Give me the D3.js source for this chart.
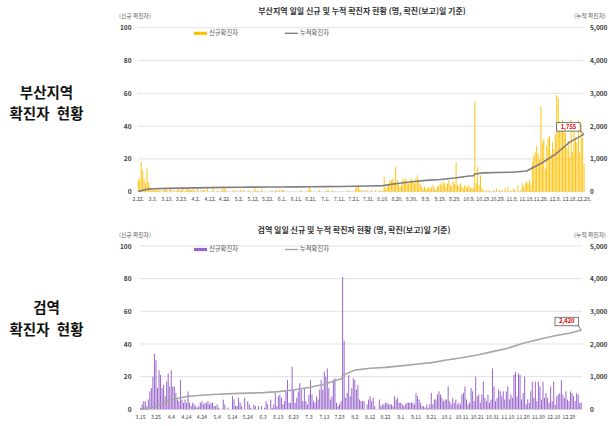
<!DOCTYPE html>
<html><head><meta charset="utf-8">
<script src="https://cdn.jsdelivr.net/npm/d3@7"></script>
<style>
body{margin:0;background:#fff;}
svg{display:block;font-family:"Noto Sans CJK KR","Noto Sans",sans-serif;}
</style></head><body>
<svg id="c" width="608" height="426"></svg>
<script>
// ---------- Busan region daily new cases (2020.2.22 ~ 12.28) ----------
const busanFeb = [7, 8, 18, 13, 8, 5, 14, 6];
const busanMar = [3, 2, 2, 1, 2, 1, 1, 2, 0, 1, 1, 2, 1, 0, 3, 1, 0, 1, 0, 1, 2, 1, 1, 3, 0, 1, 2, 2, 1, 1, 2];
const busanApr = [1, 0, 2, 0, 1, 0, 1, 1, 0, 2, 0, 0, 0, 3, 0, 0, 1, 0, 0, 1, 3, 2, 1, 0, 0, 0, 0, 1, 0, 1];
const busanMay = [0, 0, 1, 0, 1, 0, 0, 0, 1, 0, 0, 0, 3, 0, 1, 0, 0, 2, 0, 0, 0, 0, 0, 0, 1, 0, 0, 1, 0, 1, 0];
const busanJun = [1, 1, 0, 0, 0, 0, 0, 0, 0, 0, 0, 0, 0, 1, 0, 0, 0, 0, 1, 3, 1, 0, 0, 0, 0, 0, 1, 0, 0, 0];
const busanJul = [0, 1, 1, 0, 0, 1, 0, 0, 0, 0, 0, 0, 0, 0, 0, 0, 1, 0, 0, 0, 0, 2, 3, 4, 1, 1, 0, 1, 0, 1, 0];
const busanAug = [0, 1, 0, 0, 1, 0, 0, 1, 0, 1, 9, 2, 3, 5, 7, 7, 8, 6, 15, 7, 5, 3, 4, 8, 7, 8, 6, 5, 7, 8, 6];
const busanSep = [5, 8, 10, 7, 5, 3, 2, 3, 2, 2, 3, 2, 3, 4, 2, 1, 3, 4, 5, 4, 6, 5, 3, 5, 7, 4, 3, 6, 5, 18];
const busanOct = [4, 3, 5, 3, 2, 4, 3, 3, 4, 2, 3, 2, 55, 5, 15, 4, 10, 2, 1, 0, 1, 0, 1, 0, 0, 1, 0, 2, 0, 1, 0];
const busanNov = [1, 0, 2, 0, 3, 0, 1, 0, 2, 1, 0, 4, 0, 1, 5, 3, 5, 6, 5, 7, 4, 18, 22, 24, 28, 23, 20, 52, 30, 32];
const busanDec = [14, 28, 33, 34, 23, 30, 26, 35, 59, 57, 43, 37, 44, 41, 36, 27, 31, 21, 44, 24, 41, 33, 30, 44, 24, 41, 33, 17];

// Busan cumulative (read at points)
const busanCumDates = ["2.22","2.25","2.29","3.3","3.13","3.23","4.2","4.12","4.22","5.2","5.12","5.22","6.1","6.11","6.21","7.1","7.11","7.21","7.31","8.10","8.20","8.30","9.9","9.19","9.29","10.9","10.12","10.13","10.19","10.29","11.8","11.18","11.28","12.8","12.18","12.28"];
const busanCumValues = [7, 46, 79, 88, 100, 110, 118, 125, 131, 136, 140, 142, 145, 147, 152, 155, 158, 166, 175, 185, 250, 305, 345, 370, 420, 480, 485, 540, 575, 585, 595, 630, 860, 1140, 1510, 1755];

const busanTicks = ["2.22.","3.3.","3.13.","3.23.","4.2.","4.12.","4.22.","5.2.","5.12.","5.22.","6.1.","6.11.","6.21.","7.1.","7.11.","7.21.","7.31.","8.10.","8.20.","8.30.","9.9.","9.19.","9.29.","10.9.","10.19.","10.29.","11.8.","11.18.","11.28.","12.8.","12.18.","12.28."];

// ---------- Quarantine daily new cases (2020.3.15 ~ 12.28) ----------
const quarMar = [1, 3, 5, 5, 2, 6, 11, 13, 20, 34, 30, 13, 24, 21, 13, 15, 8];
const quarApr = [17, 22, 14, 24, 14, 14, 10, 6, 5, 18, 6, 4, 6, 4, 11, 4, 2, 4, 3, 2, 1, 2, 4, 5, 3, 4, 4, 5, 3, 4];
const quarMay = [4, 2, 2, 3, 1, 0, 0, 6, 3, 0, 1, 0, 0, 8, 6, 2, 2, 7, 4, 2, 0, 7, 0, 5, 3, 1, 0, 3, 2, 0, 2];
const quarJun = [0, 2, 0, 1, 5, 3, 0, 6, 1, 3, 10, 2, 8, 9, 7, 3, 5, 11, 18, 4, 4, 26, 12, 4, 7, 11, 16, 12, 5, 13];
const quarJul = [5, 3, 9, 18, 9, 5, 4, 8, 6, 12, 18, 12, 23, 20, 25, 13, 6, 8, 18, 19, 4, 2, 3, 5, 81, 42, 7, 10, 21, 8, 13];
const quarAug = [19, 18, 12, 15, 6, 5, 5, 5, 0, 3, 6, 8, 5, 7, 2, 0, 0, 6, 2, 3, 3, 4, 4, 3, 3, 3, 2, 8, 6, 7, 4];
const quarSep = [4, 3, 2, 3, 4, 4, 4, 4, 4, 3, 10, 8, 6, 4, 2, 2, 1, 3, 1, 3, 10, 3, 6, 6, 9, 11, 9, 7, 5, 6];
const quarOct = [6, 14, 5, 3, 7, 4, 6, 3, 4, 3, 9, 10, 14, 6, 3, 4, 13, 11, 5, 20, 8, 9, 4, 9, 17, 7, 5, 9, 4, 6, 25];
const quarNov = [14, 5, 7, 12, 11, 8, 11, 6, 11, 14, 6, 9, 7, 21, 23, 8, 22, 21, 6, 10, 20, 3, 6, 4, 11, 17, 7, 17, 5, 17];
const quarDec = [14, 6, 17, 7, 10, 7, 4, 14, 5, 17, 3, 8, 9, 10, 18, 9, 7, 11, 6, 5, 11, 10, 8, 5, 10, 9, 4, 4];

const quarCumDates = ["3.15","3.20","3.25","4.4","4.14","4.24","5.4","5.14","5.24","6.3","6.13","6.23","7.3","7.13","7.23","7.24","7.26","8.2","8.12","8.22","9.1","9.11","9.21","10.1","10.11","10.21","10.31","11.10","11.20","11.30","12.10","12.20","12.28"];
const quarCumValues = [0, 15, 100, 290, 390, 430, 460, 480, 495, 510, 540, 590, 670, 765, 920, 930, 1055, 1200, 1255, 1285, 1330, 1380, 1430, 1510, 1580, 1660, 1765, 1870, 2020, 2140, 2245, 2330, 2420];

const quarTicks = ["3.15","3.25","4.4","4.14","4.24","5.4","5.14","5.24","6.3","6.13","6.23","7.3","7.13","7.23","8.2","8.12","8.22","9.1","9.11","9.21","10.1","10.11","10.21","10.31","11.10","11.20","11.30","12.10","12.20"];

const leftTicks = [0, 20, 40, 60, 80, 100];
const rightTicks = [0, 1000, 2000, 3000, 4000, 5000];

const svg = d3.select("#c");

function panel(o) {
  const g = svg.append("g");
  const days = d3.timeDay.range(o.start, o.end);
  const keys = days.map(d => (d.getMonth() + 1) + "." + d.getDate());
  const x = d3.scaleBand().domain(keys).range([o.x0, o.x1]).paddingInner(0.35).paddingOuter(0.175);
  const yL = d3.scaleLinear().domain([0, 100]).range([o.y0, o.y1]);
  const yR = d3.scaleLinear().domain([0, 5000]).range([o.y0, o.y1]);

  // gridlines
  g.append("g").selectAll("line").data(leftTicks).join("line")
    .attr("x1", o.x0).attr("x2", o.x1)
    .attr("y1", d => yL(d)).attr("y2", d => yL(d))
    .attr("stroke", "#d9d9d9").attr("stroke-width", 0.8);

  // bars
  g.append("g").selectAll("rect").data(o.daily).join("rect")
    .attr("x", (d, i) => x(keys[i]))
    .attr("width", x.bandwidth())
    .attr("y", d => yL(d))
    .attr("height", d => yL(0) - yL(d))
    .attr("fill", o.barColor);

  // cumulative line
  const line = d3.line()
    .x(d => x(d[0]) + x.bandwidth() / 2)
    .y(d => yR(d[1]));
  const pts = o.cumDates.map((d, i) => [d, o.cumValues[i]]);
  g.append("path").datum(pts).attr("d", line)
    .attr("fill", "none").attr("stroke", o.lineColor).attr("stroke-width", 1.6)
    .attr("stroke-linejoin", "round");

  // axes
  const ax = d3.axisBottom(x)
    .tickValues(o.ticks.map(t => t.replace(/\.$/, "")))
    .tickSize(0).tickPadding(0)
    .tickFormat((d, i) => o.ticks[i]);
  const axG = g.append("g").attr("transform", `translate(0,${o.xLabelY})`).call(ax);
  axG.select(".domain").remove();
  axG.selectAll("text").attr("font-size", 5.2).attr("fill", "#404040")
    .attr("font-family", '"Noto Sans CJK KR",sans-serif').attr("dy", "0.35em");

  const al = d3.axisLeft(yL).tickValues(leftTicks).tickSize(0).tickPadding(o.x0 - 131.5)
    .tickFormat(d3.format("d"));
  const alG = g.append("g").attr("transform", `translate(${o.x0},0)`).call(al);
  alG.select(".domain").remove();
  alG.selectAll("text").attr("font-size", 6.5).attr("font-weight", 700).attr("fill", "#404040")
    .attr("font-family", '"Noto Sans CJK KR",sans-serif');

  const ar = d3.axisRight(yR).tickValues(rightTicks).tickSize(0).tickPadding(590 - o.x1)
    .tickFormat(d3.format(","));
  const arG = g.append("g").attr("transform", `translate(${o.x1},0)`).call(ar);
  arG.select(".domain").remove();
  arG.selectAll("text").attr("font-size", 6.5).attr("font-weight", 700).attr("fill", "#404040")
    .attr("font-family", '"Noto Sans CJK KR",sans-serif');

  // title and axis captions
  g.append("text").attr("x", o.titleX).attr("y", o.titleY).attr("text-anchor", "middle")
    .attr("dominant-baseline", "middle").attr("font-size", 8).attr("font-weight", 700)
    .attr("fill", "#333").text(o.title);
  g.append("text").attr("x", 119).attr("y", o.capY).attr("dominant-baseline", "middle")
    .attr("font-size", 5.8).attr("fill", "#595959").text("(신규 확진자)");
  g.append("text").attr("x", 606).attr("y", o.capY).attr("text-anchor", "end").attr("dominant-baseline", "middle")
    .attr("font-size", 5.8).attr("fill", "#595959").text("(누적 확진자)");

  // legend
  g.append("rect").attr("x", 194).attr("y", o.legY - 1.6).attr("width", 13).attr("height", 3.2).attr("fill", o.barColor);
  g.append("text").attr("x", 209).attr("y", o.legY).attr("dominant-baseline", "middle")
    .attr("font-size", 6.3).attr("fill", "#595959").text("신규확진자");
  g.append("line").attr("x1", 285).attr("x2", 298).attr("y1", o.legY).attr("y2", o.legY)
    .attr("stroke", o.lineColor).attr("stroke-width", 1.4);
  g.append("text").attr("x", 300).attr("y", o.legY).attr("dominant-baseline", "middle")
    .attr("font-size", 6.3).attr("fill", "#595959").text("누적확진자");

  // end value callout
  const last = pts[pts.length - 1];
  const ex = x(last[0]) + x.bandwidth() / 2, ey = yR(last[1]);
  const bx = o.boxX, by = ey - o.boxDy;
  g.append("line").attr("x1", bx + 23).attr("y1", by + 8).attr("x2", ex).attr("y2", ey)
    .attr("stroke", "#595959").attr("stroke-width", 0.8);
  g.append("rect").attr("x", bx).attr("y", by).attr("width", 23.5).attr("height", 8.5)
    .attr("fill", "#fff").attr("stroke", "#595959").attr("stroke-width", 0.8);
  g.append("text").attr("x", bx + 11.75).attr("y", by + 4.4).attr("text-anchor", "middle")
    .attr("dominant-baseline", "middle").attr("font-size", 5.8).attr("font-weight", 700)
    .attr("fill", "#e00000").text(d3.format(",")(last[1]));
}

panel({
  start: new Date(2020, 1, 22), end: new Date(2020, 11, 29),
  daily: [].concat(busanFeb, busanMar, busanApr, busanMay, busanJun, busanJul, busanAug, busanSep, busanOct, busanNov, busanDec),
  cumDates: busanCumDates, cumValues: busanCumValues, ticks: busanTicks,
  x0: 137.6, x1: 584.8, y0: 191.7, y1: 27.7, xLabelY: 199.3,
  barColor: "#ffc000", lineColor: "#7f7f7f",
  title: "부산지역 일일 신규 및 누적 확진자 현황 (명, 확진(보고)일 기준)",
  titleX: 362, titleY: 11.7, capY: 16.8, legY: 33.3, boxX: 556.7, boxDy: 11.5
});

panel({
  start: new Date(2020, 2, 15), end: new Date(2020, 11, 29),
  daily: [].concat(quarMar, quarApr, quarMay, quarJun, quarJul, quarAug, quarSep, quarOct, quarNov, quarDec),
  cumDates: quarCumDates, cumValues: quarCumValues, ticks: quarTicks,
  x0: 139.9, x1: 582, y0: 409.3, y1: 246, xLabelY: 416.7,
  barColor: "#9966cc", lineColor: "#a6a6a6",
  title: "검역 일일 신규 및 누적 확진자 현황 (명, 확진(보고)일 기준)",
  titleX: 354, titleY: 231, capY: 235.7, legY: 249.5, boxX: 555, boxDy: 13
});

// side labels
const side = [
  {t: "부산지역", y: 94}, {t: "확진자 현황", y: 115.5},
  {t: "검역", y: 309}, {t: "확진자 현황", y: 331}
];
svg.append("g").selectAll("text").data(side).join("text")
  .attr("x", 46.5).attr("y", d => d.y).attr("text-anchor", "middle")
  .attr("dominant-baseline", "middle").attr("font-size", 14.5).attr("font-weight", 700)
  .attr("word-spacing", 4)
  .attr("fill", "#111").text(d => d.t);
</script>
</body></html>
